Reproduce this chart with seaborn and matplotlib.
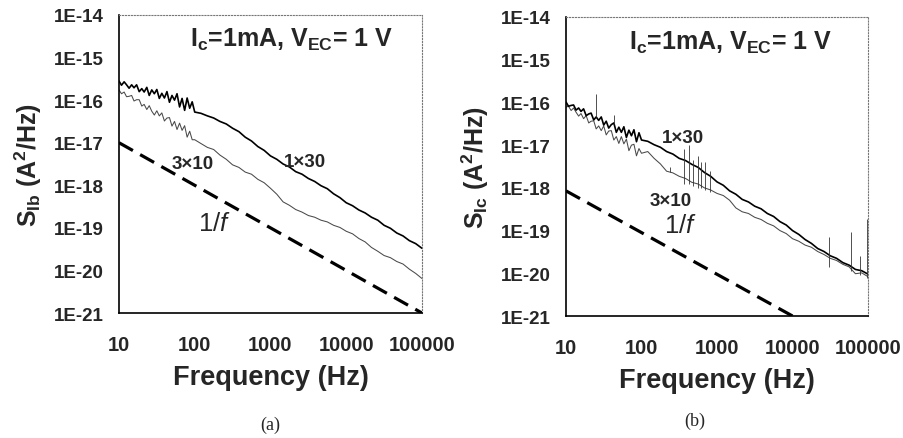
import numpy as np
import pandas as pd
import matplotlib
matplotlib.use("Agg")
import matplotlib.pyplot as plt
import matplotlib.ticker as mticker
import seaborn as sns

# ---------------- data (log10 of spectral density) ----------------
freq = [10, 10.8, 11.7, 12.6, 13.6, 14.7, 15.8, 17.1, 18.5, 20, 21.5, 23.3, 25.1, 27.1, 29.3,
        31.6, 34.1, 36.8, 39.8, 43, 46.4, 50.1, 54.1, 58.4, 63.1, 68.1, 73.6, 79.4, 85.8, 92.6,
        100, 121, 147, 178, 215, 261, 316, 383, 464, 562, 681, 825, 1000, 1212, 1468, 1778,
        2154, 2610, 3162, 3831, 4642, 5623, 6813, 8254, 10000, 12115, 14678, 17783, 21544,
        26102, 31623, 38312, 46416, 56234, 68129, 82540, 100000]

# panel (a): base-current noise S_Ib
log_sib_1x30 = [-15.55, -15.65, -15.57, -15.64, -15.72, -15.64, -15.71, -15.64, -15.80, -15.73,
                -15.81, -15.70, -15.89, -15.76, -15.85, -15.75, -15.96, -15.84, -15.95, -15.80,
                -16.05, -15.89, -16.00, -15.85, -16.16, -15.96, -16.24, -15.95, -16.19, -16.04,
                -16.28,
                -16.31, -16.37, -16.42, -16.50, -16.56, -16.66, -16.74, -16.87, -16.96, -17.09,
                -17.18, -17.31, -17.39, -17.50, -17.57, -17.68, -17.74, -17.84, -17.91, -18.01,
                -18.08, -18.20, -18.29, -18.41, -18.48, -18.58, -18.65, -18.75, -18.82, -18.94,
                -19.01, -19.12, -19.19, -19.30, -19.37, -19.48]
log_sib_3x10 = [-15.76, -15.85, -15.81, -15.92, -15.91, -15.89, -16.02, -15.99, -15.99, -16.14,
                -16.10, -16.22, -16.13, -16.26, -16.35, -16.25, -16.37, -16.30, -16.49, -16.42,
                -16.41, -16.61, -16.50, -16.69, -16.54, -16.71, -16.60, -16.87, -16.73, -16.93,
                -16.93,
                -17.02, -17.11, -17.16, -17.29, -17.39, -17.52, -17.58, -17.69, -17.74, -17.86,
                -17.94, -18.07, -18.21, -18.39, -18.47, -18.57, -18.63, -18.71, -18.75, -18.82,
                -18.86, -18.94, -18.99, -19.08, -19.14, -19.25, -19.33, -19.46, -19.55, -19.65,
                -19.70, -19.79, -19.85, -19.97, -20.07, -20.19]

# panel (b): collector-current noise S_Ic
log_sic_1x30 = [-15.99, -16.09, -16.07, -16.06, -16.18, -16.13, -16.21, -16.15, -16.31, -16.27,
                -16.25, -16.41, -16.34, -16.42, -16.34, -16.53, -16.44, -16.60, -16.52, -16.48,
                -16.70, -16.58, -16.70, -16.57, -16.82, -16.65, -16.78, -16.64, -16.92, -16.71,
                -16.88,
                -16.91, -16.99, -17.05, -17.15, -17.21, -17.31, -17.36, -17.45, -17.52, -17.64,
                -17.73, -17.86, -17.94, -18.07, -18.15, -18.27, -18.33, -18.43, -18.49, -18.60,
                -18.67, -18.79, -18.87, -19.00, -19.09, -19.21, -19.30, -19.42, -19.49, -19.59,
                -19.65, -19.75, -19.81, -19.91, -19.94, -20.02]
log_sic_3x10 = [-16.11, -16.09, -16.19, -16.13, -16.23, -16.32, -16.26, -16.38, -16.31, -16.48,
                -16.44, -16.43, -16.62, -16.55, -16.66, -16.55, -16.76, -16.67, -16.66, -16.88,
                -16.80, -16.96, -16.80, -16.97, -16.86, -17.13, -17.00, -16.98, -17.25, -17.08,
                -17.19,
                -17.15, -17.31, -17.44, -17.61, -17.65, -17.73, -17.78, -17.87, -17.91, -18.00,
                -18.05, -18.13, -18.18, -18.29, -18.47, -18.56, -18.60, -18.69, -18.74, -18.83,
                -18.89, -19.00, -19.07, -19.19, -19.25, -19.34, -19.39, -19.49, -19.56, -19.65,
                -19.70, -19.79, -19.85, -20.01, -19.99, -20.08]

# interference spikes in panel (b)
spike_f = [25, 43, 236, 360, 420, 480, 560, 620, 700, 800, 30000, 59000, 78000, 97000]
spike_lo = [-16.35, -16.50, -17.62, -17.90, -17.90, -17.95, -18.00, -18.00, -18.05, -18.10,
            -19.85, -19.95, -20.05, -20.10]
spike_hi = [-15.80, -16.30, -17.50, -17.08, -17.00, -17.35, -17.25, -17.40, -17.40, -17.60,
            -19.16, -19.04, -19.60, -18.73]

# 1/f reference lines
ref_f_a = [10, 100000]
ref_s_a = [1e-17, 1e-21]
ref_f_b = [10, 10000]
ref_s_b = [8.5e-19, 1e-21]

xtick_vals = [10, 100, 1000, 10000, 100000]
xtick_labels = ["10", "100", "1000", "10000", "100000"]
ytick_vals = [1e-21, 1e-20, 1e-19, 1e-18, 1e-17, 1e-16, 1e-15, 1e-14]
ytick_labels = ["1E-21", "1E-20", "1E-19", "1E-18", "1E-17", "1E-16", "1E-15", "1E-14"]

# ---------------- style ----------------
sns.set_style("white")
plt.rcParams["font.family"] = ["Liberation Sans", "DejaVu Sans"]
plt.rcParams["mathtext.fontset"] = "custom"
plt.rcParams["mathtext.rm"] = "Liberation Sans"
plt.rcParams["mathtext.it"] = "Liberation Sans:italic"
plt.rcParams["mathtext.bf"] = "Liberation Sans:bold"

fig = plt.figure(figsize=(9.04, 4.39), dpi=100)
axA = fig.add_axes([0.1316, 0.2847, 0.3352, 0.6789])
axB = fig.add_axes([0.6261, 0.2779, 0.3341, 0.6811])


def style_axes(ax, ylabel):
    ax.set_xscale("log")
    ax.set_yscale("log")
    ax.set_xlim(10, 100000)
    ax.set_ylim(1e-21, 1e-14)
    ax.xaxis.set_major_locator(mticker.FixedLocator(xtick_vals))
    ax.xaxis.set_major_formatter(mticker.FixedFormatter(xtick_labels))
    ax.yaxis.set_major_locator(mticker.FixedLocator(ytick_vals))
    ax.yaxis.set_major_formatter(mticker.FixedFormatter(ytick_labels))
    ax.xaxis.set_minor_locator(mticker.LogLocator(base=10, subs=np.arange(2, 10), numticks=20))
    ax.yaxis.set_minor_locator(mticker.LogLocator(base=10, subs=np.arange(2, 10), numticks=20))
    ax.xaxis.set_minor_formatter(mticker.NullFormatter())
    ax.yaxis.set_minor_formatter(mticker.NullFormatter())
    ax.tick_params(which="both", direction="in", top=False, right=False, color="black")
    ax.tick_params(which="major", length=5, width=1.0)
    ax.tick_params(which="minor", length=3, width=0.7)
    ax.tick_params(axis="x", which="major", pad=16, labelsize=14.5)
    ax.tick_params(axis="y", which="major", pad=11, labelsize=13.5)
    for lab in ax.get_xticklabels() + ax.get_yticklabels():
        lab.set_fontweight("bold")
    for s in ["left", "bottom"]:
        ax.spines[s].set_color("black")
        ax.spines[s].set_linewidth(1.2)
    for s in ["top", "right"]:
        ax.spines[s].set_color("#777777")
        ax.spines[s].set_linewidth(0.8)
        ax.spines[s].set_linestyle(":")
    ax.set_xlabel("Frequency (Hz)", fontsize=19.5, fontweight="bold", labelpad=7)
    ax.set_ylabel(ylabel, fontsize=18, fontweight="bold", labelpad=7)


def draw_curves(ax, s30, s10, rf, rs):
    df = pd.DataFrame({"f": freq, "s30": np.power(10.0, s30), "s10": np.power(10.0, s10)})
    sns.lineplot(data=df, x="f", y="s10", ax=ax, color="#4a4a4a", lw=0.75, estimator=None)
    sns.lineplot(data=df, x="f", y="s30", ax=ax, color="black", lw=1.2, estimator=None)
    ref = pd.DataFrame({"f": rf, "s": rs})
    ln = sns.lineplot(data=ref, x="f", y="s", ax=ax, color="black", lw=2.3, estimator=None)
    ln.lines[-1].set_dashes([5.0, 2.6])


draw_curves(axA, log_sib_1x30, log_sib_3x10, ref_f_a, ref_s_a)
draw_curves(axB, log_sic_1x30, log_sic_3x10, ref_f_b, ref_s_b)
axB.vlines(spike_f, np.power(10.0, spike_lo), np.power(10.0, spike_hi), color="#333333", lw=0.6)

style_axes(axA, r"S$_{\mathbf{Ib}}$ (A$^{\mathbf{2}}$/Hz)")
style_axes(axB, r"S$_{\mathbf{Ic}}$ (A$^{\mathbf{2}}$/Hz)")

cond = r"I$_{\mathbf{c}}$=1mA, V$_{\mathbf{EC}}$= 1 V"
axA.text(0.568, 0.919, cond, transform=axA.transAxes, ha="center", va="center",
         fontsize=18, fontweight="bold")
axB.text(0.546, 0.916, cond, transform=axB.transAxes, ha="center", va="center",
         fontsize=18, fontweight="bold")

lab_kw = dict(ha="center", va="center", fontsize=13.5, fontweight="bold")
axA.text(2850, 10 ** -17.43, "1×30", **lab_kw)
axA.text(95, 10 ** -17.50, "3×10", **lab_kw)
axA.text(180, 10 ** -18.89, r"1/$\mathit{f}$", ha="center", va="center", fontsize=18.5)
axB.text(355, 10 ** -16.81, "1×30", **lab_kw)
axB.text(240, 10 ** -18.30, "3×10", **lab_kw)
axB.text(330, 10 ** -18.88, r"1/$\mathit{f}$", ha="center", va="center", fontsize=18.5)

fig.text(270 / 904, 1 - 425 / 439, "(a)", ha="center", va="center", fontsize=13,
         family=["Liberation Serif", "DejaVu Serif"])
fig.text(695 / 904, 1 - 421 / 439, "(b)", ha="center", va="center", fontsize=13,
         family=["Liberation Serif", "DejaVu Serif"])

fig.savefig("out.png", dpi=100, facecolor="white")
